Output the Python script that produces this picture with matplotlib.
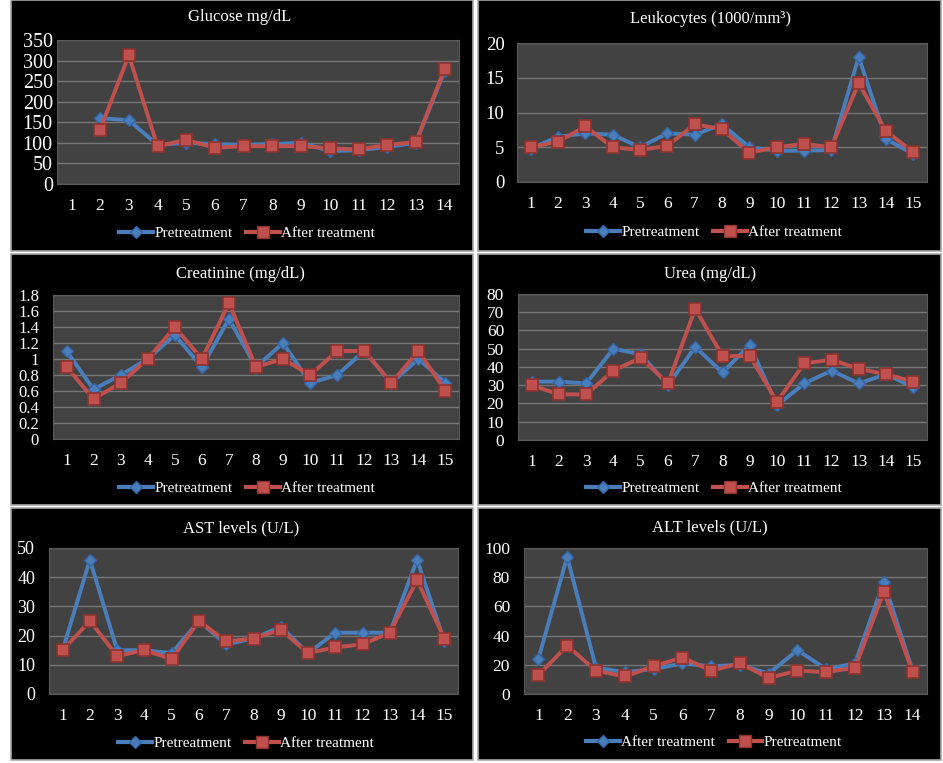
import numpy as np
import matplotlib
matplotlib.use("Agg")
import matplotlib.pyplot as plt
from matplotlib.patches import Rectangle
from matplotlib.lines import Line2D

plt.rcParams['font.family'] = ['Liberation Serif', 'DejaVu Serif']

# ---- data ----
glucose_pre = [np.nan, 160, 155, 95, 100, 97, 95, 97, 100, 80, 82, 90, 100, 275]
glucose_after = [np.nan, 132, 313, 92, 107, 88, 92, 92, 92, 87, 84, 95, 102, 280]

leuko_pre = [4.8, 6.5, 7, 6.8, 5, 7, 6.8, 8.3, 5, 4.5, 4.5, 4.6, 18, 6.2, 4]
leuko_after = [5, 5.8, 8, 5, 4.6, 5.2, 8.3, 7.6, 4.2, 5, 5.5, 5, 14.2, 7.3, 4.3]

creat_pre = [1.1, 0.62, 0.8, 1.0, 1.3, 0.9, 1.5, 0.9, 1.2, 0.7, 0.8, 1.1, 0.7, 1.0, 0.7]
creat_after = [0.9, 0.5, 0.7, 1.0, 1.4, 1.0, 1.7, 0.9, 1.0, 0.8, 1.1, 1.1, 0.7, 1.1, 0.6]

urea_pre = [32, 32, 31, 50, 47, 30, 51, 37, 52, 19, 31, 38, 31, 36, 29]
urea_after = [30, 25, 25, 38, 45, 31, 72, 46, 46, 21, 42, 44, 39, 36, 32]

ast_pre = [15, 46, 15, 15, 14, 25, 17, 19, 23, 14, 21, 21, 21, 46, 18]
ast_after = [15, 25, 13, 15, 12, 25, 18, 19, 22, 14, 16, 17, 21, 39, 19]

# ALT legend is swapped in the original (blue = "After treatment")
alt_blue = [24, 94, 18, 15, 17, 21, 19, 20, 14, 30, 17, 21, 77, 16]
alt_red = [13, 33, 16, 12, 19, 25, 16, 21, 11, 16, 15, 18, 70, 15]

W, H = 943, 763
fig = plt.figure(figsize=(W / 100, H / 100), dpi=100)
fig.patch.set_facecolor('white')

BLUE = '#4a7ebb'
BLUE_E = '#3465a4'
RED = '#c0504d'
RED_E = '#8c3431'


def fx(x):
    return x / W


def fy(y):
    return 1 - y / H


def panel(x0, y0, x1, y1):
    r = Rectangle((fx(x0), fy(y1)), fx(x1 - x0), (y1 - y0) / H,
                  transform=fig.transFigure, facecolor='black',
                  edgecolor='#a8a8a8', lw=1.2, zorder=-5)
    fig.patches.append(r)


def chart(box, title, title_xy, blue, red, ymax, ystep, leg_xy,
          names=('Pretreatment', 'After treatment'), yfmt=None, ypad=8, ysize=13):
    x0, x1, y0, y1 = box
    ax = fig.add_axes([fx(x0), fy(y1), fx(x1 - x0), (y1 - y0) / H])
    ax.set_zorder(2)
    ax.set_facecolor('#424242')
    n = len(blue)
    xs = np.arange(1, n + 1)
    ax.plot(xs, blue, color=BLUE, lw=2.8, marker='D', ms=6.5,
            mfc=BLUE, mec=BLUE_E, zorder=3)
    ax.plot(xs, red, color=RED, lw=2.8, marker='s', ms=9,
            mfc=RED, mec=RED_E, mew=1.2, zorder=4)
    ax.set_xlim(0.5, n + 0.5)
    ax.set_ylim(0, ymax)
    ticks = np.arange(0, ymax + ystep / 2, ystep)
    ax.set_yticks(ticks)
    if yfmt:
        ax.set_yticklabels([yfmt(t) for t in ticks])
    ax.set_xticks(xs)
    ax.set_xticklabels([str(i) for i in xs])
    ax.grid(axis='y', color='#767676', lw=1)
    ax.set_axisbelow(True)
    ax.tick_params(colors='white', length=0)
    ax.tick_params(axis='x', pad=10, labelsize=12.5)
    ax.tick_params(axis='y', pad=ypad, labelsize=ysize)
    for s in ax.spines.values():
        s.set_color('#5a5a5a')
    t = fig.text(fx(title_xy[0]), fy(title_xy[1]), title, color='white',
                 fontsize=12, ha='center', va='center')
    t.set_zorder(3)
    h1 = Line2D([], [], color=BLUE, lw=3, marker='D', ms=6.5, mfc=BLUE, mec=BLUE_E)
    h2 = Line2D([], [], color=RED, lw=3, marker='s', ms=9, mfc=RED, mec=RED_E)
    leg = fig.legend([h1, h2], list(names), loc='center',
                     bbox_to_anchor=(fx(leg_xy[0]), fy(leg_xy[1])), ncol=2,
                     frameon=False, fontsize=11, handlelength=2.2,
                     handletextpad=0.1, columnspacing=0.9)
    leg.set_zorder(3)
    for tx in leg.get_texts():
        tx.set_color('white')
    return ax


# panels
panel(11, 0, 473, 251)
panel(478, 0, 941, 251)
panel(11, 254, 473, 505)
panel(478, 254, 941, 505)
panel(11, 508, 473, 760)
panel(478, 508, 941, 760)

chart((57, 459, 40, 184), 'Glucose mg/dL', (240, 17), glucose_pre, glucose_after,
      350, 50, (247, 233), ypad=3, ysize=14.5)
chart((517, 927, 43, 182), 'Leukocytes (1000/mm³)', (710, 19), leuko_pre, leuko_after,
      20, 5, (714, 232), ypad=9, ysize=13.5)
chart((53, 459, 295, 439), 'Creatinine (mg/dL)', (240, 274), creat_pre, creat_after,
      1.8, 0.2, (247, 488), ypad=10, ysize=12,
      yfmt=lambda t: f'{t:g}' if t == 0 or t == 1 else f'{t:.1f}')
chart((518, 927, 294, 440), 'Urea (mg/dL)', (710, 274), urea_pre, urea_after,
      80, 10, (714, 488), ypad=10, ysize=12.5)
chart((49, 458, 548, 694), 'AST levels (U/L)', (241, 528), ast_pre, ast_after,
      50, 10, (246, 743), ypad=10, ysize=13)
chart((524, 927, 548, 694), 'ALT levels (U/L)', (710, 527), alt_blue, alt_red,
      100, 20, (714, 742), names=('After treatment', 'Pretreatment'), ypad=10, ysize=12.5)

fig.savefig('out.png', dpi=100, facecolor='white')
